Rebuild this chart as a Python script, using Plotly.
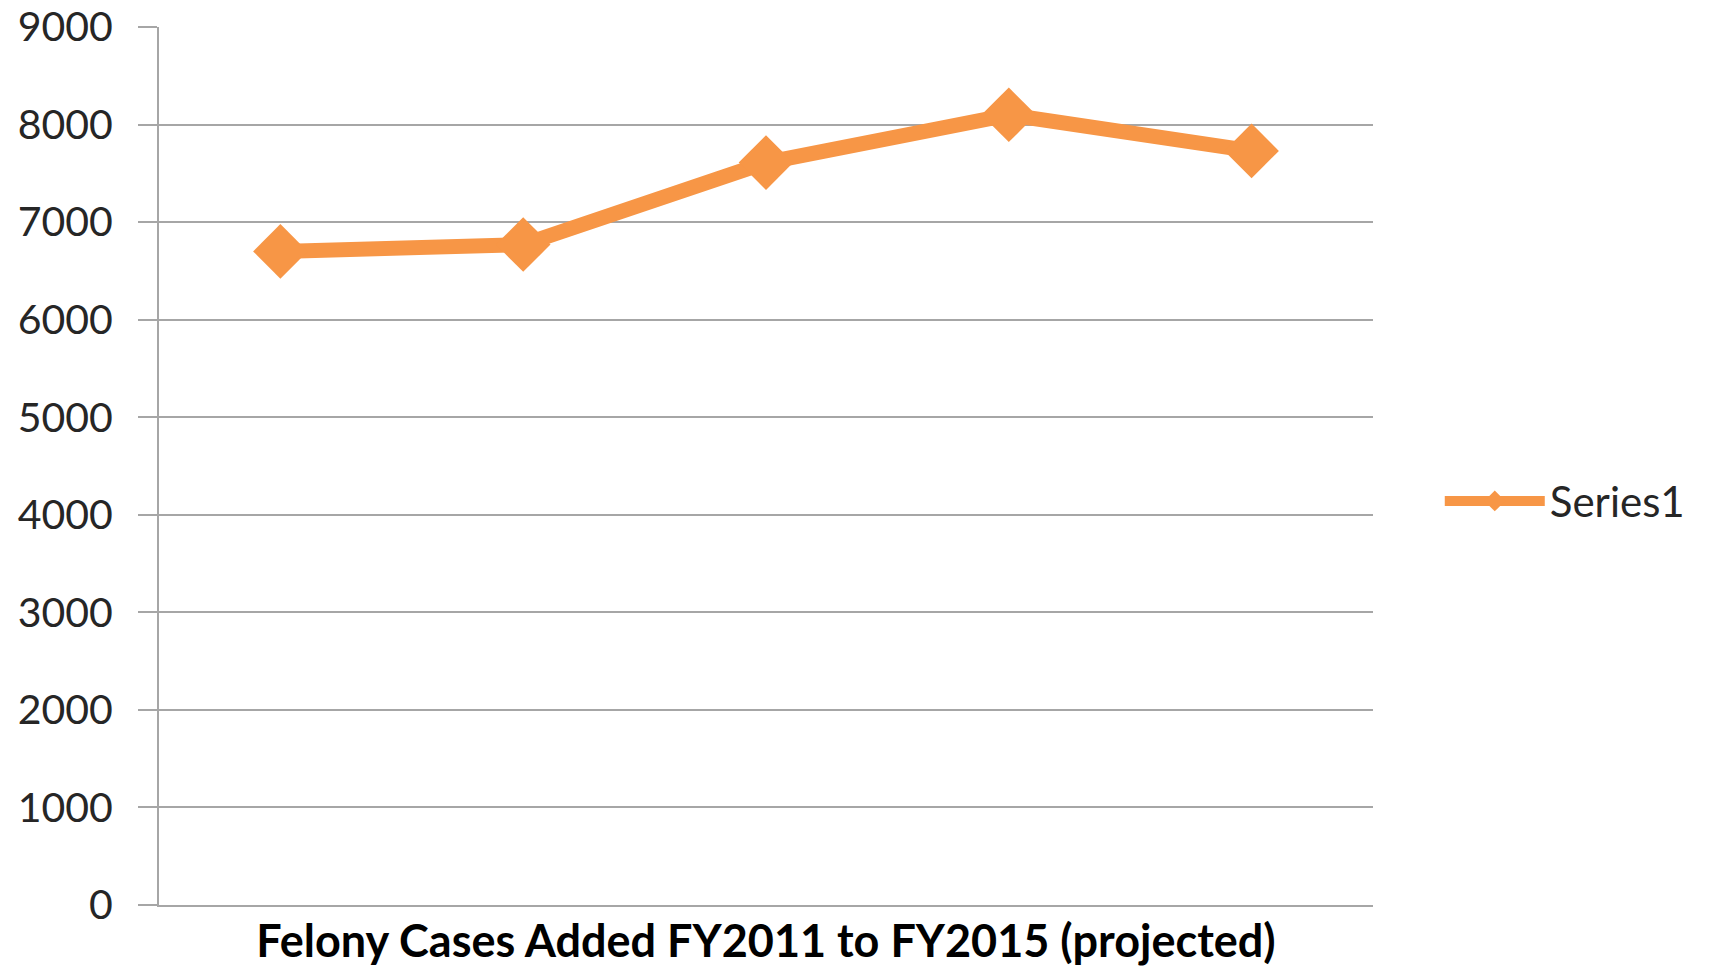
import plotly.graph_objects as go

categories = ["FY2011", "FY2012", "FY2013", "FY2014", "FY2015"]
values = [6700, 6770, 7610, 8100, 7730]
series_name = "Series1"
axis_title = "Felony Cases Added FY2011 to FY2015 (projected)"
y_ticks = [0, 1000, 2000, 3000, 4000, 5000, 6000, 7000, 8000, 9000]

orange = "#F79646"
grid = "#A6A6A6"
font = "Lato, 'Open Sans', sans-serif"

fig = go.Figure()
fig.add_trace(go.Scatter(
    x=categories, y=values, name=series_name, mode="lines+markers",
    line=dict(color=orange, width=15),
    marker=dict(symbol="diamond", size=42, color=orange),
))

fig.update_layout(
    width=1711, height=968,
    paper_bgcolor="white", plot_bgcolor="white",
    margin=dict(l=151, r=346, t=19, b=71),
    font=dict(family=font, size=41, color="#262626"),
    showlegend=True,
    legend=dict(x=1.055, y=0.46, xanchor="left", yanchor="middle",
                itemwidth=100, font=dict(size=42), tracegroupgap=0,
                bgcolor="rgba(0,0,0,0)"),
)
fig.update_xaxes(
    type="category", range=[-0.5, 4.5], showticklabels=False, showgrid=False,
    ticks="", showline=True, linecolor=grid, linewidth=2, zeroline=False,
    title=dict(text="<b>" + axis_title + "</b>", standoff=19,
               font=dict(size=45, color="#000000")),
    automargin=False,
)
fig.update_yaxes(
    range=[0, 9000], tickvals=y_ticks, ticktext=[str(v) for v in y_ticks],
    showgrid=True, gridcolor=grid, gridwidth=2,
    showline=True, linecolor=grid, linewidth=2,
    ticks="outside", ticklen=19, tickcolor=grid, tickwidth=2,
    zeroline=False, ticklabelstandoff=17, ticklabeloverflow="allow",
    tickfont=dict(size=41),
    automargin=False,
)

fig.write_html("out.html")
